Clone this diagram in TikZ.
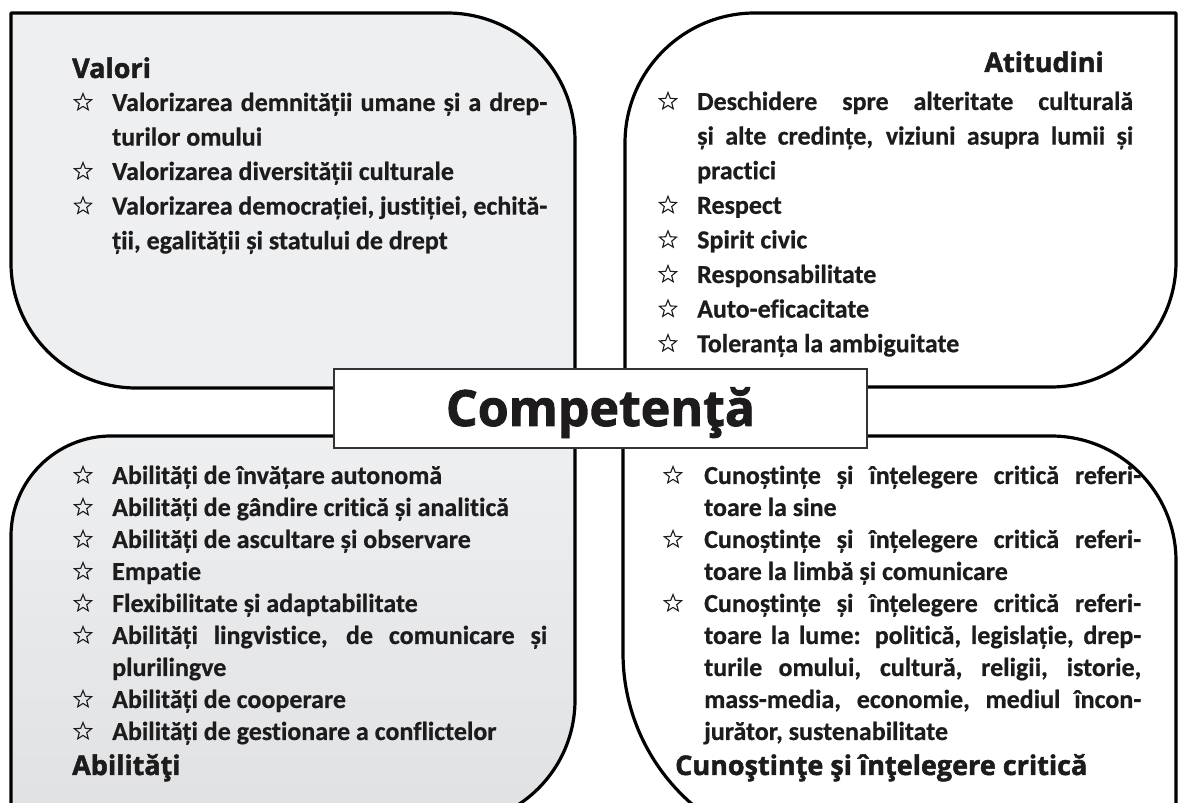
\documentclass[tikz,border=0pt]{standalone}
\usepackage{fontspec}
\usetikzlibrary{shapes.geometric}
\setmainfont{Carlito}[Ligatures={NoCommon}, BoldFeatures={FakeBold=0.6}]
\newfontfamily\headfont{Open Sans}[BoldFeatures={FakeBold=1.8}]
\definecolor{ink}{HTML}{1E1B1C}
\definecolor{panelgray}{HTML}{EEEFF0}
\definecolor{panelgraydark}{HTML}{E0E1E2}
\definecolor{boxline}{HTML}{333333}
\newcommand\itembody[3]{\parbox[t]{#1}{\fontsize{26}{#2}\selectfont\bfseries\hyphenpenalty=10000\exhyphenpenalty=10000\tolerance=10000\noindent #3}}
\newcommand\topitem[1]{\itembody{435pt}{34.6pt}{#1}}
\newcommand\topitemR[1]{\itembody{436pt}{34.6pt}{#1}}
\newcommand\botitem[1]{\itembody{435pt}{32pt}{#1}}
\newcommand\botitemR[1]{\itembody{437pt}{32pt}{#1}}
\tikzset{
  panel/.style={line width=3.2pt, draw=black, line join=round},
  itemtext/.style={anchor=base west, inner sep=0pt, text=ink},
  staricon/.style={star, star points=5, star point ratio=2.3, draw=ink, line width=1.1pt, minimum size=18pt, inner sep=0pt, yshift=8.5pt},
  heading/.style={anchor=base west, inner sep=0pt, text=ink, font=\headfont\bfseries\fontsize{27}{30}\selectfont},
  compbox/.style={draw=boxline, line width=2pt, fill=white, minimum width=533pt, minimum height=79pt, inner sep=0pt},
  comptext/.style={anchor=base, inner sep=0pt, text=ink, font=\headfont\bfseries\fontsize{50}{52}\selectfont}
}
\begin{document}
\begin{tikzpicture}[x=1pt,y=1pt]
\useasboundingbox (0,0) rectangle (1178,803);
\fill[white] (0,0) rectangle (1178,803);
% panels
\draw[panel, fill=panelgray] (11,790) -- (447,790) arc[start angle=90, end angle=0, radius=128] -- (575,415) -- (136,415) arc[start angle=270, end angle=180, radius=125] -- cycle;
\draw[panel, fill=white] (625,416) -- (625,660) arc[start angle=180, end angle=90, radius=130] -- (1176,790) -- (1176,541) arc[start angle=0, end angle=-90, radius=125] -- cycle;
\draw[panel, top color=panelgray, bottom color=panelgraydark] (11,-22) -- (11,267) arc[start angle=180, end angle=90, radius=100] -- (575,367) -- (575,103) arc[start angle=0, end angle=-90, radius=125] -- cycle;
\draw[panel, fill=white] (623,367) -- (1051,367) arc[start angle=90, end angle=0, radius=125] -- (1176,-50) -- (823,-50) arc[start angle=270, end angle=180, radius=200] -- cycle;
% centre box
\node[compbox] (comp) at (600.5,394.5) {};
\node[comptext] (compt) at (600.5,377) {Competenţă};
% Valori
\node[heading] (valh) at (72,725) {Valori};
\node[staricon] (v1s) at (83,692) {};
\node[itemtext] (v1) at (112,692) {\topitem{Valorizarea demnității umane și a drep-\linebreak turilor omului}};
\node[staricon] (v2s) at (83,623) {};
\node[itemtext] (v2) at (112,623) {\topitem{Valorizarea diversității culturale}};
\node[staricon] (v3s) at (83,588.4) {};
\node[itemtext] (v3) at (112,588.4) {\topitem{Valorizarea democrației, justiției, echită-\linebreak ții, egalității și statului de drept}};
% Atitudini
\node[heading, anchor=base east] (atih) at (1104,731) {Atitudini};
\node[staricon] (a1s) at (668,693) {};
\node[itemtext] (a1) at (697,693) {\topitemR{Deschidere spre alteritate culturală\linebreak și alte credințe, viziuni asupra lumii și\linebreak practici}};
\node[staricon] (a2s) at (668,589.2) {};
\node[itemtext] (a2) at (697,589.2) {\topitemR{Respect}};
\node[staricon] (a3s) at (668,554.6) {};
\node[itemtext] (a3) at (697,554.6) {\topitemR{Spirit civic}};
\node[staricon] (a4s) at (668,520) {};
\node[itemtext] (a4) at (697,520) {\topitemR{Responsabilitate}};
\node[staricon] (a5s) at (668,485.4) {};
\node[itemtext] (a5) at (697,485.4) {\topitemR{Auto-eficacitate}};
\node[staricon] (a6s) at (668,450.8) {};
\node[itemtext] (a6) at (697,450.8) {\topitemR{Toleranța la ambiguitate}};
% Abilitati
\node[staricon] (b1s) at (83,319) {};
\node[itemtext] (b1) at (112,319) {\botitem{Abilități de învățare autonomă}};
\node[staricon] (b2s) at (83,287) {};
\node[itemtext] (b2) at (112,287) {\botitem{Abilități de gândire critică și analitică}};
\node[staricon] (b3s) at (83,255) {};
\node[itemtext] (b3) at (112,255) {\botitem{Abilități de ascultare și observare}};
\node[staricon] (b4s) at (83,223) {};
\node[itemtext] (b4) at (112,223) {\botitem{Empatie}};
\node[staricon] (b5s) at (83,191) {};
\node[itemtext] (b5) at (112,191) {\botitem{Flexibilitate și adaptabilitate}};
\node[staricon] (b6s) at (83,159) {};
\node[itemtext] (b6) at (112,159) {\botitem{Abilități lingvistice, de comunicare și\linebreak plurilingve}};
\node[staricon] (b7s) at (83,95) {};
\node[itemtext] (b7) at (112,95) {\botitem{Abilități de cooperare}};
\node[staricon] (b8s) at (83,63) {};
\node[itemtext] (b8) at (112,63) {\botitem{Abilități de gestionare a conflictelor}};
\node[heading] (abih) at (72,28) {Abilităţi};
% Cunostinte
\node[staricon] (c1s) at (673,319) {};
\node[itemtext] (c1) at (704,319) {\botitemR{Cunoștințe și înțelegere critică referi-\linebreak toare la sine}};
\node[staricon] (c2s) at (673,255) {};
\node[itemtext] (c2) at (704,255) {\botitemR{Cunoștințe și înțelegere critică referi-\linebreak toare la limbă și comunicare}};
\node[staricon] (c3s) at (673,191) {};
\node[itemtext] (c3) at (704,191) {\botitemR{Cunoștințe și înțelegere critică referi-\linebreak toare la lume: politică, legislație, drep-\linebreak turile omului, cultură, religii, istorie,\linebreak mass-media, economie, mediul încon-\linebreak jurător, sustenabilitate}};
\node[heading] (cunh) at (675,28) {Cunoştinţe şi înţelegere critică};
\end{tikzpicture}
\end{document}
